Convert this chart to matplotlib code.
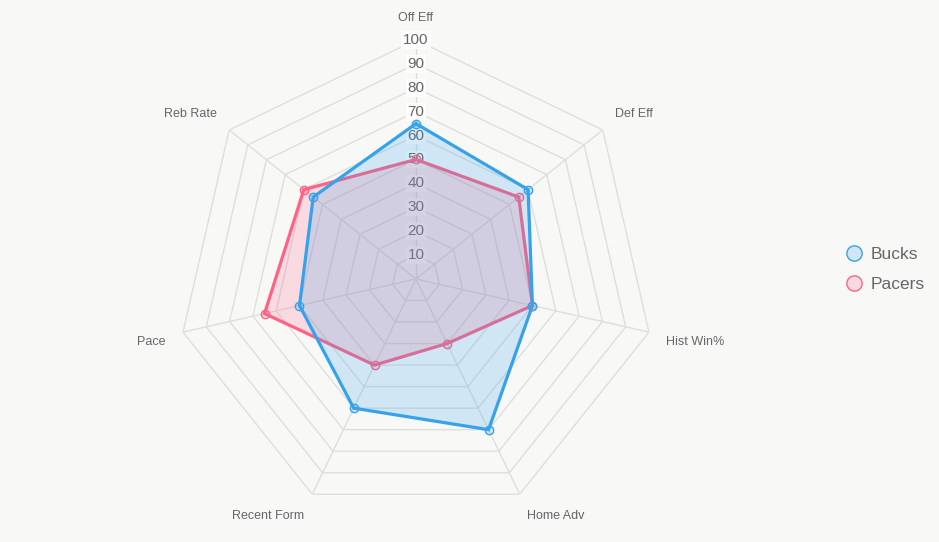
import numpy as np
import matplotlib
matplotlib.use('Agg')
import matplotlib.pyplot as plt
from matplotlib.lines import Line2D

# data
labels = ['Off Eff', 'Def Eff', 'Hist Win%', 'Home Adv', 'Recent Form', 'Pace', 'Reb Rate']
bucks = [65, 60, 50, 70, 60, 50, 55]
pacers = [50, 55, 50, 30, 40, 65, 60]
ticks = [10, 20, 30, 40, 50, 60, 70, 80, 90, 100]

BG = '#f8f8f7'
BLUE = (54 / 255, 162 / 255, 235 / 255)
PINK = (255 / 255, 99 / 255, 132 / 255)

plt.rcParams['font.family'] = ['Liberation Sans', 'DejaVu Sans']

fig = plt.figure(figsize=(9.39, 5.42), dpi=100)
fig.patch.set_facecolor(BG)
ax = fig.add_axes([0.1885, 0.0443, 0.509, 0.882], projection='polar')
ax.set_facecolor('none')
ax.set_theta_zero_location('N')
ax.set_theta_direction(-1)
ax.set_ylim(0, 100)
ax.grid(False)
ax.spines['polar'].set_visible(False)
ax.set_xticks([])
ax.set_yticks([])

n = len(labels)
angles = np.arange(n) * 2 * np.pi / n
closed = np.append(angles, angles[0])

# polygon grid + spokes
grid_col = '#dededd'
for t in ticks:
    ax.plot(closed, [t] * (n + 1), color=grid_col, lw=1, zorder=1)
for a in angles:
    ax.plot([a, a], [0, 100], color=grid_col, lw=1, zorder=1)

# tick labels along the top spoke, with a light backdrop
for t in ticks:
    ax.text(0, t, str(t), ha='center', va='center', fontsize=11, color='#666666',
            zorder=1.5,
            bbox=dict(boxstyle='square,pad=0.12', fc=(1, 1, 1, 0.85), ec='none'))

# point labels (chart.js style alignment)
for a, lab in zip(angles, labels):
    deg = np.degrees(a)
    if np.isclose(deg, 0) or np.isclose(deg, 180):
        ha = 'center'
    elif deg < 180:
        ha = 'left'
    else:
        ha = 'right'
    if deg < 90 or deg > 270:
        va, r = 'bottom', 106.5
    else:
        va, r = 'top', 107.5
    ax.text(a, r, lab, ha=ha, va=va, fontsize=9, color='#666666')

# datasets: pacers drawn first, bucks on top
for vals, col, z in [(pacers, PINK, 2), (bucks, BLUE, 4)]:
    v = np.append(vals, vals[0])
    ax.fill(closed, v, color=col + (0.2,), lw=0, zorder=z)
    ax.plot(closed, v, color=col, lw=2.3, zorder=z + 0.5, solid_joinstyle='miter')
    ax.plot(angles, vals, 'o', ms=6, mfc=col + (0.2,), mec=col, mew=1, zorder=z + 0.6)

handles = [
    Line2D([], [], marker='o', ls='none', ms=11, mfc=BLUE + (0.2,), mec=BLUE, mew=1),
    Line2D([], [], marker='o', ls='none', ms=11, mfc=PINK + (0.2,), mec=PINK, mew=1),
]
fig.legend(handles, ['Bucks', 'Pacers'], loc='center left', bbox_to_anchor=(0.889, 0.503),
           frameon=False, fontsize=12.5, labelcolor='#666666', handletextpad=0.35,
           handlelength=1.2, labelspacing=0.85, borderpad=0)

fig.savefig('out.png', dpi=100, facecolor=BG)
